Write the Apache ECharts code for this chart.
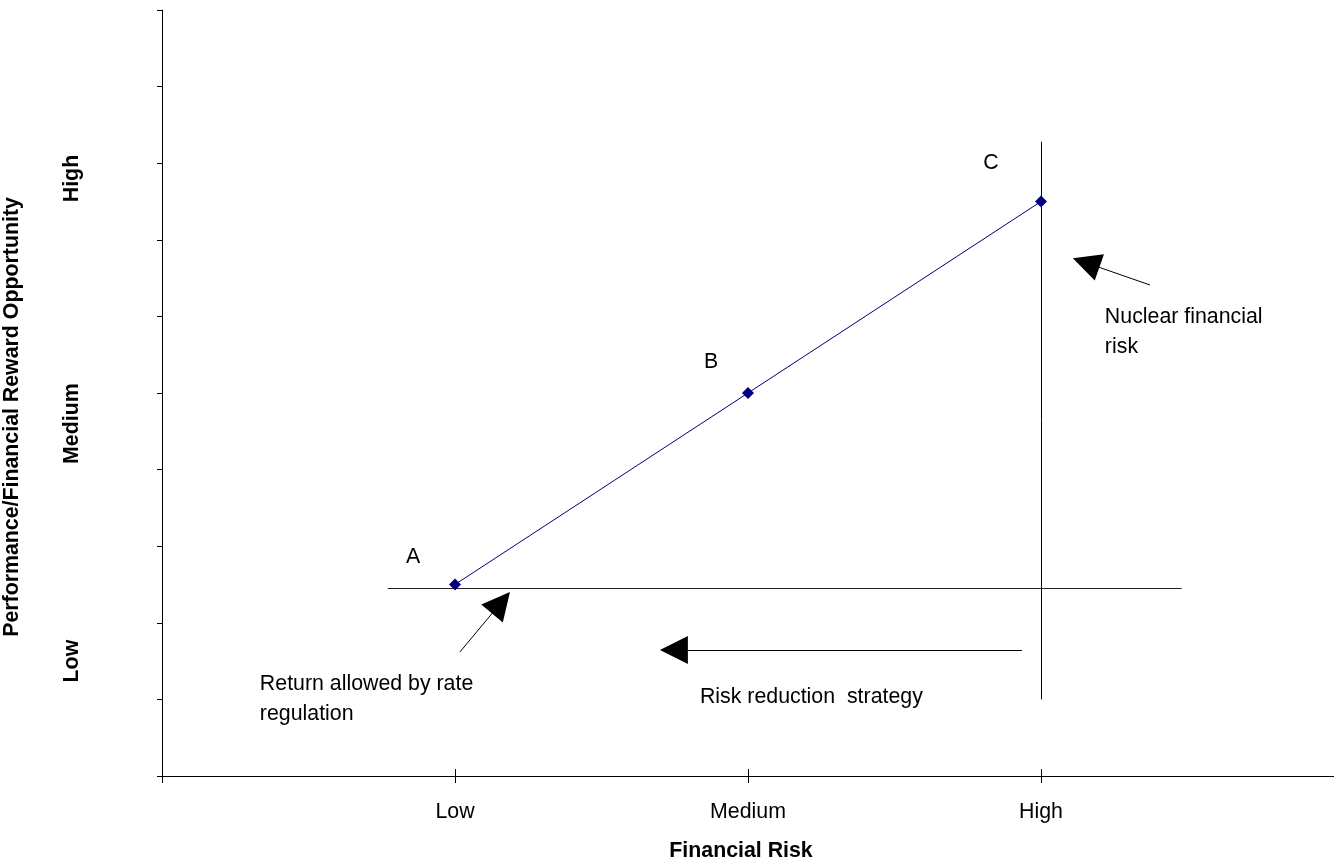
<!DOCTYPE html>
<html>
<head>
<meta charset="utf-8">
<script src="https://cdn.jsdelivr.net/npm/echarts@6/dist/echarts.min.js"></script>
<style>
html,body{margin:0;padding:0;background:#fff;}
#chart{width:1334px;height:863px;}
</style>
</head>
<body>
<div id="chart"></div>
<script>
// ---- data ----
const xCategories = ['Low', 'Medium', 'High'];
const xCategoryPos = [1, 2, 3];
const yCategories = ['Low', 'Medium', 'High'];
const yCategoryPos = [1.5, 4.6, 7.8];
const riskX = [1, 2, 3];
const rewardY = [2.5, 5, 7.5];
const pointLabels = ['A', 'B', 'C'];
const regulationLine = [[0.77, 2.45], [3.48, 2.45]];
const nuclearLine = [[3, 1.0], [3, 8.28]];
const arrowFrom = [[2.935, 1.645], [3.372, 6.41], [1.017, 1.62]];
const arrowTo = [[1.747, 1.645], [3.154, 6.70], [1.157, 2.262]];
const noteTexts = ['Nuclear financial\nrisk', 'Return allowed by rate\nregulation', 'Risk reduction  strategy'];
const noteAnchors = [[3.218, 5.80], [0.334, 1.005], [1.836, 1.03]];
const xTitle = 'Financial Risk';
const yTitle = 'Performance/Financial Reward Opportunity';

// ---- layout / style ----
const FONT = '"Liberation Sans", Arial, sans-serif';
const FS = 21.33;
const pointLabelOffsets = [[-42, -27], [-37, -31], [-50, -38]];

const chart = echarts.init(document.getElementById('chart'), null, {renderer: 'canvas'});

const option = {
  backgroundColor: '#fff',
  animation: false,
  textStyle: {fontFamily: FONT},
  grid: {left: 162, right: 0, top: 10, bottom: 87, containLabel: false, outerBoundsMode: 'none'},
  xAxis: [{
    type: 'value', min: 0, max: 4, interval: 1, position: 'bottom',
    axisLine: {show: true, lineStyle: {color: '#000', width: 1}},
    axisTick: {show: true, length: 7, lineStyle: {color: '#000', width: 1}},
    splitLine: {show: false},
    axisLabel: {
      customValues: xCategoryPos,
      formatter: v => xCategories[xCategoryPos.indexOf(v)] || '',
      fontSize: FS, color: '#000', fontFamily: FONT, margin: 26
    },
    name: xTitle, nameLocation: 'middle', nameGap: 65,
    nameTextStyle: {fontSize: FS, fontWeight: 'bold', color: '#000', fontFamily: FONT, padding: [0, 14, 0, 0]}
  }, {
    type: 'value', min: 0, max: 4, interval: 1, position: 'bottom',
    axisLine: {show: false},
    axisTick: {show: true, inside: true, length: 7, customValues: xCategoryPos, lineStyle: {color: '#000', width: 1}},
    splitLine: {show: false},
    axisLabel: {show: false}
  }],
  yAxis: {
    type: 'value', min: 0, max: 10, interval: 1,
    axisLine: {show: true, lineStyle: {color: '#000', width: 1}},
    axisTick: {show: true, length: 5, lineStyle: {color: '#000', width: 1}},
    splitLine: {show: false},
    axisLabel: {
      customValues: yCategoryPos,
      formatter: v => yCategories[yCategoryPos.indexOf(v)] || '',
      rotate: 90, fontSize: FS, fontWeight: 'bold', color: '#000', fontFamily: FONT, margin: 79
    },
    name: yTitle, nameLocation: 'middle', nameRotate: 90, nameGap: 139,
    nameTextStyle: {fontSize: FS, fontWeight: 'bold', color: '#000', fontFamily: FONT, padding: [0, 48, 0, 0]}
  },
  series: [
    {
      type: 'lines', coordinateSystem: 'cartesian2d', silent: true, z: 2,
      symbol: 'none',
      lineStyle: {color: '#222', width: 1.2, opacity: 1},
      data: [{coords: regulationLine}, {coords: nuclearLine, lineStyle: {color: '#000', width: 1}}]
    },
    {
      type: 'lines', coordinateSystem: 'cartesian2d', silent: true, z: 3,
      symbol: ['none', 'triangle'], symbolSize: 28,
      lineStyle: {color: '#000', width: 1, opacity: 1},
      itemStyle: {color: '#000'},
      data: arrowFrom.map((f, i) => ({coords: [f, arrowTo[i]]}))
    },
    {
      type: 'line', z: 5,
      data: riskX.map((x, i) => ({
        value: [x, rewardY[i]],
        label: {offset: pointLabelOffsets[i]}
      })),
      symbol: 'diamond', symbolSize: 12,
      lineStyle: {color: '#000080', width: 1},
      itemStyle: {color: '#000080'},
      label: {
        show: true, position: 'inside',
        formatter: p => pointLabels[p.dataIndex],
        fontSize: FS, color: '#000', fontFamily: FONT
      }
    },
    {
      type: 'scatter', z: 4, silent: true,
      symbol: 'circle', symbolSize: 0,
      itemStyle: {color: '#000', opacity: 1},
      data: noteAnchors.map(a => a),
      label: {
        show: true, position: 'right', distance: 0,
        formatter: p => noteTexts[p.dataIndex],
        fontSize: FS, lineHeight: 30, color: '#000', opacity: 1, fontFamily: FONT, align: 'left'
      },
      emphasis: {disabled: true}
    }
  ]
};
chart.setOption(option);
</script>
</body>
</html>
